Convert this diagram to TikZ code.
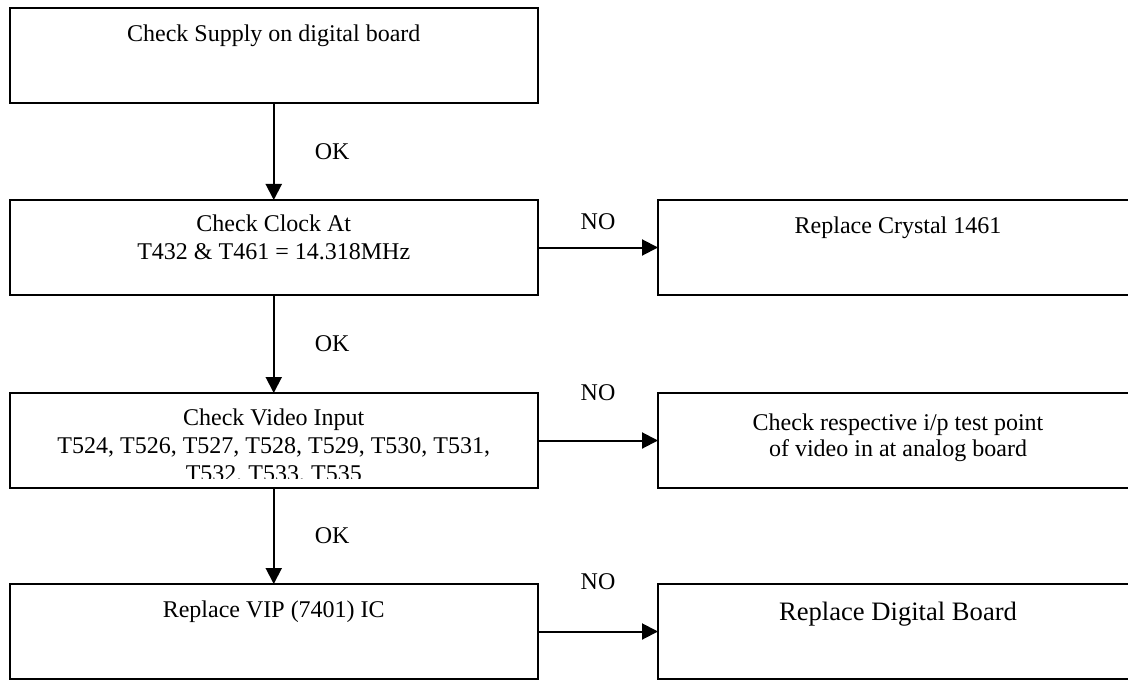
\documentclass[tikz,border=0pt]{standalone}
\usepackage{fontspec}
\setmainfont{Liberation Serif}
\usetikzlibrary{arrows.meta}

\begin{document}
\begin{tikzpicture}[x=0.5pt, y=-0.5pt,
    every node/.style={inner sep=0pt, outer sep=0pt, font=\fontsize{12}{14}\selectfont},
    leftbox/.style={draw, line width=1pt, minimum width=264.25pt, minimum height=47.5pt},
    rightbox/.style={draw, line width=1pt, minimum width=240pt, minimum height=47.5pt},
    txt/.style={anchor=base, align=center},
    multitxt/.style={anchor=north, align=center},
    flow/.style={line width=1pt, -{Triangle[length=8pt, width=8pt]}},
    lbl/.style={draw=none, fill=none}]
    \useasboundingbox (0,0) rectangle (1128,679);
    \clip (0,0) rectangle (1128,679);

    % boxes on the left
    \node[leftbox] (supply) at (273.75, 55.5) {};
    \node[leftbox] (clock) at (273.75, 247.5) {};
    \node[leftbox] (video) at (273.75, 440.5) {};
    \node[leftbox] (vip) at (273.75, 631.5) {};
    % boxes on the right
    \node[rightbox] (crystal) at (898, 247.5) {};
    \node[rightbox] (analog) at (898, 440.5) {};
    \node[rightbox] (digital) at (898, 631.5) {};

    % texts
    \node[txt] (supplytxt) at (273.75, 42) {Check Supply on digital board};
    \node[multitxt] (clocktxt) at (273.75, 214.5) {Check Clock At\\T432 \& T461 = 14.318MHz};
    \begin{scope}
        \clip (10, 394) rectangle (537, 478);
        \node[multitxt] (videotxt) at (273.75, 408.5) {Check Video Input\\T524, T526, T527, T528, T529, T530, T531,\\T532, T533, T535};
    \end{scope}
    \node[txt] (viptxt) at (273.75, 617) {Replace VIP (7401) IC};
    \node[txt] (crystaltxt) at (898, 234) {Replace Crystal 1461};
    \node[multitxt, font=\fontsize{12}{13}\selectfont] (analogtxt) at (898, 414) {Check respective i/p test point\\of video in at analog board};
    \node[txt, font=\fontsize{13.3}{15}\selectfont] (digitaltxt) at (898, 620) {Replace Digital Board};

    % connectors
    \draw[flow] (supply) -- node[lbl, anchor=west, xshift=20.5pt] {OK} (clock);
    \draw[flow] (clock) -- node[lbl, anchor=west, xshift=20.5pt] {OK} (video);
    \draw[flow] (video) -- node[lbl, anchor=west, xshift=20.5pt] {OK} (vip);
    \draw[flow] (clock) -- node[lbl, anchor=south, yshift=9pt] {NO} (crystal);
    \draw[flow] (video) -- node[lbl, anchor=south, yshift=20pt] {NO} (analog);
    \draw[flow] (vip) -- node[lbl, anchor=south, yshift=21pt] {NO} (digital);
\end{tikzpicture}
\end{document}
